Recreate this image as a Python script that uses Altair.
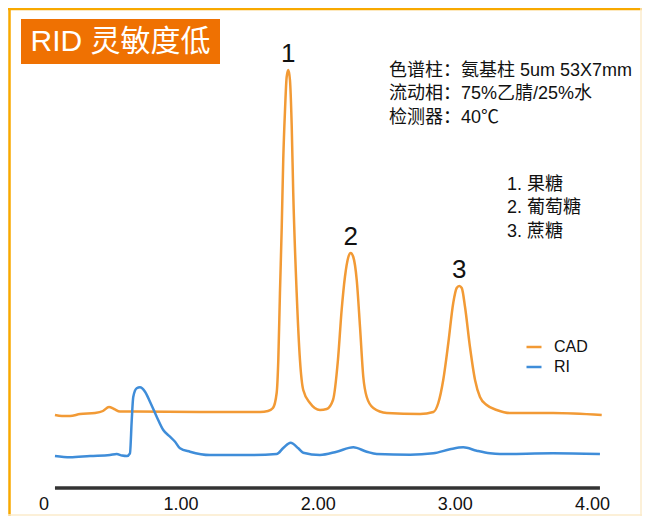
import altair as alt
import pandas as pd

W, H = 634, 508

# Retention time (min) and detector signal (arbitrary units)
cad_time = [0.080, 0.131, 0.190, 0.263, 0.372, 0.430, 0.474, 0.511, 0.554, 0.664, 1.138,
            1.576, 1.634, 1.670, 1.697, 1.709, 1.721, 1.734, 1.745, 1.758, 1.770, 1.782,
            1.794, 1.807, 1.818, 1.843, 1.867, 1.891, 1.940, 2.013, 2.062, 2.108, 2.144,
            2.171, 2.195, 2.220, 2.237, 2.256, 2.281, 2.305, 2.329, 2.354, 2.402, 2.500,
            2.743, 2.840, 2.876, 2.912, 2.949, 2.985, 3.010, 3.029, 3.047, 3.071, 3.107,
            3.144, 3.180, 3.229, 3.302, 3.399, 3.713, 4.068]
cad_signal = [73, 72, 72, 74, 75, 77, 81, 79, 76.5, 76.5, 76,
              76, 77, 80, 95, 128, 195, 261, 328, 378, 411, 418,
              408, 361, 295, 195, 128, 98, 85, 78, 79, 88, 128,
              178, 211, 231, 235, 231, 208, 161, 111, 91, 80, 75,
              74, 76, 85, 108, 145, 185, 200, 202, 200, 181, 141,
              108, 91, 83, 78, 75, 75, 73]

ri_time = [0.080, 0.190, 0.336, 0.481, 0.530, 0.569, 0.605, 0.627, 0.640, 0.651, 0.676,
           0.700, 0.737, 0.773, 0.822, 0.870, 0.919, 0.956, 0.992, 1.065, 1.211, 1.503,
           1.697, 1.745, 1.799, 1.855, 1.891, 2.013, 2.135, 2.256, 2.354, 2.427, 2.670,
           2.840, 2.961, 3.058, 3.156, 3.253, 3.326, 3.713, 4.055]
ri_signal = [32, 30.7, 32, 33, 34, 32.5, 32, 34.7, 68, 91, 99.7,
             100.7, 96.3, 86.3, 71.3, 58, 51.3, 46.3, 39.7, 36.3, 33, 33,
             34, 40, 45.3, 39.7, 35.3, 33, 36.3, 40.7, 36.3, 34, 33.3,
             34.7, 38.7, 40.7, 37.3, 34.7, 34, 34.7, 34]

series_names = ["CAD", "RI"]
series_colors = ["#F29A35", "#3F8DD9"]

tick_values = [0, 1, 2, 3, 4]
tick_labels = ["0", "1.00", "2.00", "3.00", "4.00"]
axis_start, axis_end = 0.080, 4.055

peak_times = [1.782, 2.237, 3.029]
peak_heights = [418, 235, 202]
peak_names = ["1", "2", "3"]

title_text = "RID 灵敏度低"
condition_lines = ["色谱柱：氨基柱 5um 53X7mm", "流动相：75%乙腈/25%水", "检测器：40℃"]
compound_lines = ["1. 果糖", "2. 葡萄糖", "3. 蔗糖"]

FONT = "Liberation Sans, Noto Sans CJK SC"

# chart y pixel = 480 - signal ; x pixel = 36.0 + 137.1 * time
x_scale = alt.Scale(domain=[-0.26258, 4.36178], nice=False, zero=False)
y_scale = alt.Scale(domain=[-28, 480], nice=False, zero=False)

traces = pd.DataFrame({
    "time": cad_time + ri_time,
    "signal": cad_signal + ri_signal,
    "detector": ["CAD"] * len(cad_time) + ["RI"] * len(ri_time),
})

lines = alt.Chart(traces).mark_line(strokeWidth=2.5, interpolate="monotone").encode(
    x=alt.X("time:Q", scale=x_scale, axis=None),
    y=alt.Y("signal:Q", scale=y_scale, axis=None),
    color=alt.Color(
        "detector:N",
        scale=alt.Scale(domain=series_names, range=series_colors),
        legend=alt.Legend(
            orient="none", legendX=517, legendY=330, title=None,
            symbolType="stroke", symbolSize=225, symbolStrokeWidth=2.5,
            labelFontSize=16, labelFont=FONT, labelColor="#111111",
            labelOffset=11, rowPadding=3, padding=0,
        ),
    ),
)

axis_df = pd.DataFrame({"start": [axis_start], "end": [axis_end], "level": [0]})
axis_line = alt.Chart(axis_df).mark_rule(strokeWidth=3.5, color="#333333").encode(
    x=alt.X("start:Q", scale=x_scale, axis=None),
    x2="end:Q",
    y=alt.Y("level:Q", scale=y_scale, axis=None),
)

ticks_df = pd.DataFrame({"value": tick_values, "label": tick_labels})
tick_text = alt.Chart(ticks_df).mark_text(
    fontSize=18, font=FONT, color="#111111", baseline="middle", align="center"
).encode(
    x=alt.X("value:Q", scale=x_scale, axis=None),
    y=alt.value(497),
    text="label:N",
)

peaks_df = pd.DataFrame({"time": peak_times, "height": peak_heights, "name": peak_names})
peak_text = alt.Chart(peaks_df).mark_text(
    fontSize=26, font=FONT, color="#111111", baseline="middle", align="center", dy=-16
).encode(
    x=alt.X("time:Q", scale=x_scale, axis=None),
    y=alt.Y("height:Q", scale=y_scale, axis=None),
    text="name:N",
)

one = pd.DataFrame({"k": [0]})

cond_text = alt.Chart(pd.DataFrame({"t": ["\n".join(condition_lines)]})).mark_text(
    fontSize=18, font=FONT, color="#111111", align="left", baseline="middle",
    lineBreak="\n", lineHeight=23.8,
).encode(x=alt.value(381), y=alt.value(62.5), text="t:N")

comp_text = alt.Chart(pd.DataFrame({"t": ["\n".join(compound_lines)]})).mark_text(
    fontSize=18, font=FONT, color="#111111", align="left", baseline="middle",
    lineBreak="\n", lineHeight=23.5,
).encode(x=alt.value(499), y=alt.value(176.5), text="t:N")

title_box = alt.Chart(one).mark_rect(color="#EF7102").encode(
    x=alt.value(13), x2=alt.value(212), y=alt.value(11), y2=alt.value(56)
)
title_label = alt.Chart(pd.DataFrame({"t": [title_text]})).mark_text(
    fontSize=30, font=FONT, color="#FFFFFF", align="left", baseline="middle"
).encode(x=alt.value(22.5), y=alt.value(34), text="t:N")

border_top = alt.Chart(one).mark_rule(color="#F8A900", strokeWidth=2.5).encode(
    x=alt.value(0), x2=alt.value(W), y=alt.value(1)
)
border_left = alt.Chart(one).mark_rule(color="#F8A900", strokeWidth=2.5).encode(
    x=alt.value(1.5), y=alt.value(0), y2=alt.value(H)
)
border_right = alt.Chart(one).mark_rule(color="#FBEBCB", strokeWidth=1.5).encode(
    x=alt.value(633), y=alt.value(0), y2=alt.value(H)
)
border_bottom = alt.Chart(one).mark_rule(color="#FBEBCB", strokeWidth=1.5).encode(
    x=alt.value(0), x2=alt.value(W), y=alt.value(H - 1)
)

chart = alt.layer(
    border_top, border_left, border_right, border_bottom,
    title_box, title_label, cond_text, comp_text,
    axis_line, tick_text, lines, peak_text,
).properties(
    width=W, height=H, padding=0, autosize=alt.AutoSizeParams(type="none"),
    background="#FFFFFF",
).configure_view(strokeWidth=0)

chart.save("out.html", embed_options={"renderer": "svg", "actions": False})
